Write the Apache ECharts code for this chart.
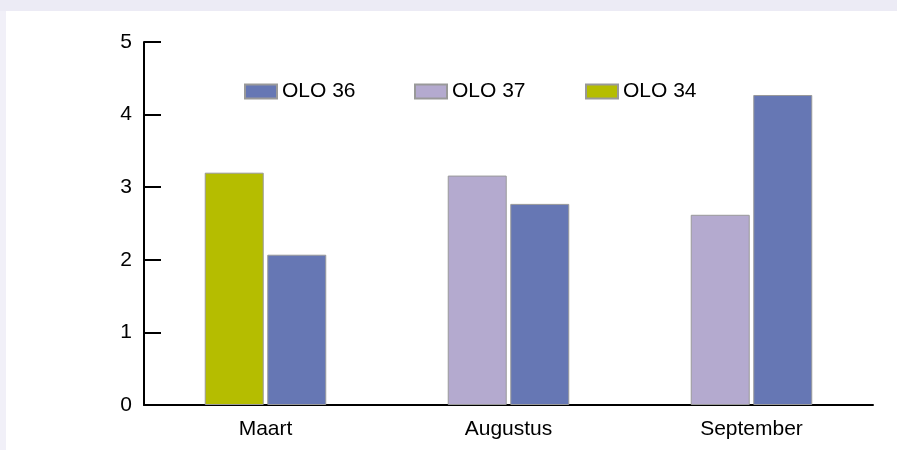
<!DOCTYPE html>
<html>
<head>
<meta charset="utf-8">
<script src="https://cdn.jsdelivr.net/npm/echarts@6/dist/echarts.min.js"></script>
<style>
  html, body { margin: 0; padding: 0; background: #fff; }
  #chart { width: 897px; height: 450px; }
</style>
</head>
<body>
<div id="chart"></div>
<script>
const months = ['Maart', 'Augustus', 'September']
// values per month, null where the series has no bar
const olo34 = [3.2, null, null]
const olo37 = [null, 3.16, 2.62]
const olo36 = [2.07, 2.77, 4.27]

const font = 'Liberation Sans, Arial, sans-serif'
const border = { borderColor: '#999', borderWidth: 1 }

const chart = echarts.init(document.getElementById('chart'))
chart.setOption({
  backgroundColor: '#fff',
  animation: false,
  textStyle: { fontFamily: font },
  graphic: [
    { type: 'rect', shape: { x: 0, y: 0, width: 897, height: 11 }, style: { fill: '#ecebf5' }, silent: true },
    { type: 'rect', shape: { x: 0, y: 11, width: 6, height: 439 }, style: { fill: '#f1f0f8' }, silent: true }
  ],
  legend: [
    { data: ['OLO 36'], left: 244, top: 81 },
    { data: ['OLO 37'], left: 414, top: 81 },
    { data: ['OLO 34'], left: 585, top: 81 }
  ].map(l => Object.assign(l, {
    icon: 'rect', itemWidth: 32, itemHeight: 14, padding: 0,
    textStyle: { fontSize: 21, color: '#000', fontFamily: font }
  })),
  grid: { left: 144, right: 24, top: 42, bottom: 45 },
  xAxis: {
    type: 'category',
    data: months,
    axisLine: { lineStyle: { color: '#000', width: 2 } },
    axisTick: { inside: true, length: 10, lineStyle: { color: '#000', width: 2 } },
    axisLabel: { fontSize: 21, color: '#000', margin: 14, fontFamily: font }
  },
  yAxis: {
    type: 'value',
    min: 0, max: 5, interval: 1,
    splitLine: { show: false },
    axisLine: { show: true, lineStyle: { color: '#000', width: 2 } },
    axisTick: { show: true, inside: true, length: 17, lineStyle: { color: '#000', width: 2 } },
    axisLabel: { fontSize: 21, color: '#000', margin: 12, fontFamily: font }
  },
  series: [
    { name: 'OLO 34', type: 'bar', stack: 'left', data: olo34, barWidth: 59, barGap: '6%',
      itemStyle: Object.assign({ color: '#b5bd00' }, border) },
    { name: 'OLO 37', type: 'bar', stack: 'left', data: olo37, barWidth: 59, barGap: '6%',
      itemStyle: Object.assign({ color: '#b4aacf' }, border) },
    { name: 'OLO 36', type: 'bar', stack: 'right', data: olo36, barWidth: 59, barGap: '6%',
      itemStyle: Object.assign({ color: '#6677b4' }, border) }
  ]
})
</script>
</body>
</html>
